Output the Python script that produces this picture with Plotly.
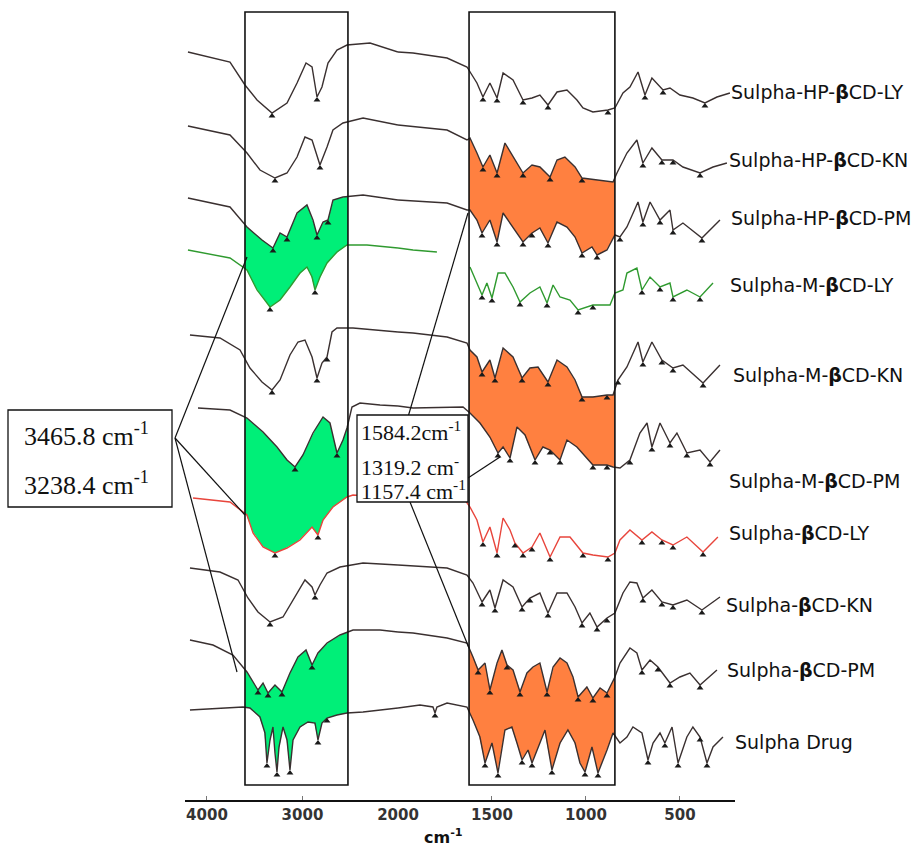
import numpy as np
import plotly.graph_objects as go

# ---------------- data (wavenumber cm-1, stacked transmittance offset; larger = lower on page) ----
names = ["Sulpha-HP-<b>β</b>CD-LY", "Sulpha-HP-<b>β</b>CD-KN", "Sulpha-HP-<b>β</b>CD-PM",
         "Sulpha-M-<b>β</b>CD-LY", "Sulpha-M-<b>β</b>CD-KN", "Sulpha-M-<b>β</b>CD-PM",
         "Sulpha-<b>β</b>CD-LY", "Sulpha-<b>β</b>CD-KN", "Sulpha-<b>β</b>CD-PM", "Sulpha Drug"]

wn1 = [4199,3759,3602,3476,3319,3162,3057,2963,2900,2848,2796,2733,2639,2534,2293,2000,
       1920,1739,1633,1580,1548,1511,1473,1441,1388,1335,1287,1245,1202,1154,1101,1048,1016,963,883,846,803,766,723,686,649,590,553,500,431,367,303,234]
t1 = [52,62,85,100,113,103,83,63,67,97,87,63,50,45,43,52,
      53,58,67,83,97,83,98,73,80,100,98,95,105,92,90,100,108,112,110,108,93,87,72,95,78,90,88,95,98,103,97,93]
pk1 = [3319,2848,1548,1473,1335,1202,883,686,590,367]

wn2 = [4199,3759,3581,3445,3288,3162,3057,2974,2900,2817,2743,2681,2576,2366,2000,
       1739,1633,1617,1580,1548,1511,1473,1431,1388,1335,1287,1245,1191,1154,1112,1058,1021,941,856,835,782,729,697,649,596,537,484,393,324,250]
t2 = [126,135,153,170,178,173,157,137,140,165,147,130,123,118,125,
      130,140,138,153,167,155,173,143,157,173,165,167,177,160,157,167,178,180,182,173,153,140,163,148,160,160,167,173,167,163]
pk2 = [3288,2817,1548,1473,1335,1191,1021,697,596,537,393]

wn3 = [4199,3759,3581,3424,3309,3235,3162,3057,2953,2890,2848,2785,2733,2681,2576,2366,2000,
       1739,1633,1617,1580,1553,1511,1473,1441,1388,1335,1287,1245,1202,1154,1101,1058,1021,968,941,888,846,819,782,723,697,659,606,553,537,484,383,287]
t3 = [198,207,227,240,248,233,237,213,205,220,235,222,220,200,197,195,200,
      203,210,210,220,233,220,242,213,227,242,233,228,243,222,227,237,253,247,255,250,235,237,227,202,222,202,220,210,230,223,238,220]
pk3 = [3309,3162,2848,2733,1553,1473,1335,1287,1202,1021,941,819,697,606,537,383]

wn4 = [4199,3759,3581,3476,3340,3235,3131,3026,2953,2900,2869,2817,2743,2639,2534,2325,2000,
       1920,1793,None,
       1617,1580,1553,1527,1500,1468,1431,1388,1351,1298,1245,1207,1175,1138,1085,1042,963,872,846,803,782,729,702,659,606,553,537,463,393,324]
t4 = [250,258,270,290,307,300,287,273,267,277,290,277,263,252,245,245,248,
      250,252,None,
      267,283,295,283,298,273,273,287,302,293,287,303,285,297,300,310,305,305,293,290,273,268,290,277,287,283,297,290,297,283]
pk4 = [3340,2869,1553,1500,1351,1207,1042,963,702,606,537,393]

wn5 = [4178,3864,3654,3550,3424,3319,3235,3131,3047,2974,2900,2848,2796,2743,2691,2639,2471,2188,2000,
       1920,1739,1633,1617,1580,1553,1511,1484,1441,1388,1340,1298,1255,1202,1154,1101,1058,1021,963,888,856,830,782,723,697,649,596,537,484,377,287]
t5 = [335,338,350,368,382,390,380,355,342,340,357,378,363,357,332,328,328,330,332,
      333,337,343,350,357,372,360,378,348,357,378,368,367,382,360,367,380,397,397,395,395,380,367,342,362,342,360,368,365,383,365]
pk5 = [3319,2848,2743,1553,1484,1340,1202,1021,888,830,697,596,537,377]

wn6 = [4094,3759,3581,3413,3267,3162,3078,2995,2890,2785,2712,2639,2576,2534,2482,2398,2188,2000,
       1920,1654,1617,1564,1511,1468,1441,1404,1367,1324,1271,1229,1191,1138,1101,1048,995,963,888,856,819,766,713,675,649,606,553,516,463,393,340,287]
t6 = [408,410,418,432,447,460,467,455,433,417,423,453,440,428,407,403,405,406,
      408,407,413,423,437,453,447,458,427,435,460,447,450,460,440,447,458,465,465,467,468,460,433,423,447,423,443,433,453,450,462,450]
pk6 = [3078,2639,1468,1404,1271,1191,1138,963,888,766,649,553,463,340]

wn7 = [4146,3759,3581,3518,3413,3288,3162,3026,2900,2838,2785,2681,2534,2471,2188,2000,
       1920,1654,1617,1580,1548,1511,1473,1441,1404,1378,1335,1287,1245,1191,1138,1085,1016,963,883,846,819,766,702,649,596,537,463,377,298]
t7 = [498,502,515,533,547,553,548,540,527,535,520,507,497,495,497,497,
      497,497,507,520,542,527,553,518,530,543,553,547,533,557,537,537,553,555,557,553,540,530,540,532,540,545,537,552,537]
pk7 = [3288,2838,1548,1473,1378,1335,1287,1191,1016,883,702,596,537,377]

wn8 = [4178,3864,3675,3571,3466,3340,3204,3099,2974,2900,2869,2817,2743,2607,2366,2000,
       1739,1633,1601,1553,1511,1484,1441,1388,1340,1298,1245,1202,1154,1101,1058,1021,979,941,888,846,803,766,729,697,649,596,537,463,383,287]
t8 = [568,572,580,598,612,622,617,600,580,587,595,585,573,567,563,565,
      568,575,583,602,590,608,580,587,607,598,593,613,593,593,607,623,613,627,618,613,593,582,583,598,590,602,605,600,610,597]
pk8 = [3340,2869,1553,1484,1340,1298,1202,1021,941,888,697,596,537,383]

wn9 = [4178,3937,3728,3581,3466,3413,3361,3288,3215,3131,3047,2963,2900,2838,2743,2607,2471,2188,2000,
       1920,1739,1633,1601,1574,1537,1511,1473,1447,1420,1388,1351,1314,1282,1245,1207,1175,1138,1101,1069,1042,995,963,925,888,846,819,766,729,702,659,617,553,500,447,393,303]
t9 = [640,645,655,672,690,683,693,685,692,673,657,650,665,653,643,635,630,630,632,
      633,638,643,657,670,663,690,663,650,665,670,692,673,667,663,692,667,658,663,677,697,687,698,688,693,677,663,648,653,670,660,667,683,677,673,685,670]
pk9 = [3466,3361,3215,2900,1574,1511,1420,1351,1207,1042,963,888,702,617,553,393]

wn10 = [4178,3864,3623,3550,3445,3393,3372,3340,3309,3288,3267,3246,3204,3162,3131,3099,3026,2942,2869,2838,2796,2743,2639,2534,2366,2000,
        1883,1814,1803,1793,1739,1633,1601,1564,1537,1500,1468,1431,1394,1367,1340,1308,1287,1245,1218,1181,1138,1096,1058,1032,1005,968,936,888,856,819,782,750,702,670,643,606,580,542,510,463,431,393,356,324,271]
t10 = [710,708,707,708,717,733,763,740,727,753,772,747,727,740,770,740,727,722,723,740,723,718,715,713,712,708,
       705,707,713,707,703,707,720,737,763,743,773,730,727,743,760,750,763,743,730,770,743,730,743,763,772,747,773,750,733,743,737,727,733,760,743,733,743,727,763,737,727,737,763,747,737]
pk10 = [3372,3267,3131,2838,2743,1803,1537,1468,1340,1287,1181,1005,936,670,580,510,393,356]

spectra = [(wn1,t1,pk1),(wn2,t2,pk2),(wn3,t3,pk3),(wn4,t4,pk4),(wn5,t5,pk5),
           (wn6,t6,pk6),(wn7,t7,pk7),(wn8,t8,pk8),(wn9,t9,pk9),(wn10,t10,pk10)]
line_colors = ["#3a3030"]*3 + ["#2f9a2f"] + ["#3a3030"]*2 + ["#e8453c"] + ["#3a3030"]*3

region_oh = (3602, 2524)
region_fp = (1622, 846)
green_pairs = [(2,3),(5,6),(8,9)]
orange_pairs = [(1,2),(4,5),(8,9)]

label_y = [92,160,218,285,375,481,533,605,670,742]
label_x = [729,727,729,728,731,727,727,724,725,733]

# reference frame is 918 px wide; figure width W, positions given as fractions of the frame
REF_W, W, H, PH = 918, 940, 849, 800
def PX(x): return x / REF_W
def PY(y): return 1 - y / PH

def arr(v):
    return np.array([np.nan if a is None else a for a in v], dtype=float)

def interp_at(wn, t, q):
    wn, t = arr(wn), arr(t)
    m = ~np.isnan(wn)
    return np.interp(q, wn[m][::-1], t[m][::-1])

fig = go.Figure()

def band(i, j, reg, color, xa):
    g = np.linspace(reg[0], reg[1], 200)
    yt = interp_at(spectra[i][0], spectra[i][1], g)
    yb = interp_at(spectra[j][0], spectra[j][1], g)
    fig.add_trace(go.Scatter(x=np.concatenate([g, g[::-1]]), y=np.concatenate([yt, yb[::-1]]),
                             fill="toself", fillcolor=color, line=dict(width=0), mode="lines",
                             xaxis=xa, yaxis="y", hoverinfo="skip"))

for i, j in green_pairs:
    band(i, j, region_oh, "#00ef78", "x")
for i, j in orange_pairs:
    band(i, j, region_fp, "#ff8040", "x2")

for k, (wn, t, pk) in enumerate(spectra):
    w, y = arr(wn), arr(t)
    left = w >= 2000
    right = (w <= 2000) | np.isnan(w)
    fig.add_trace(go.Scatter(x=w[left], y=y[left], mode="lines", xaxis="x", yaxis="y",
                             line=dict(color=line_colors[k], width=1.4), connectgaps=False))
    fig.add_trace(go.Scatter(x=w[right], y=y[right], mode="lines", xaxis="x2", yaxis="y",
                             line=dict(color=line_colors[k], width=1.4), connectgaps=False))
    pk = np.array(pk, dtype=float)
    py_ = interp_at(wn, t, pk) + 3
    for xa, m in (("x", pk > 2000), ("x2", pk <= 2000)):
        fig.add_trace(go.Scatter(x=pk[m], y=py_[m], mode="markers", xaxis=xa, yaxis="y",
                                 marker=dict(symbol="triangle-up", size=6, color="#1a1a1a")))

shapes = []
shapes.append(dict(type="rect", xref="x", yref="paper", x0=region_oh[0], x1=region_oh[1],
                   y0=PY(785), y1=PY(12), line=dict(color="#111", width=1.6)))
shapes.append(dict(type="rect", xref="x2", yref="paper", x0=region_fp[0], x1=region_fp[1],
                   y0=PY(785), y1=PY(12), line=dict(color="#111", width=1.6)))
for (x0, y0, x1, y1) in [(175,438,247,257),(175,438,245,515),(175,438,237,672),
                          (408,417,468,213),(468,478,500,457),(410,502,469,648)]:
    shapes.append(dict(type="line", xref="paper", yref="paper", x0=PX(x0), y0=PY(y0),
                       x1=PX(x1), y1=PY(y1), line=dict(color="#111", width=1.2)))
shapes.append(dict(type="rect", xref="paper", yref="paper", x0=PX(8), x1=PX(172), y0=PY(507), y1=PY(410),
                   fillcolor="white", line=dict(color="#111", width=1.3)))
shapes.append(dict(type="rect", xref="paper", yref="paper", x0=PX(357), x1=PX(468), y0=PY(502), y1=PY(415),
                   fillcolor="white", line=dict(color="#111", width=1.3)))

ann = []
serif = "Liberation Serif"
def A(text, x, y, size, family, xanchor="center"):
    ann.append(dict(text=text, x=PX(x), y=PY(y), xref="paper", yref="paper", xanchor=xanchor,
                    yanchor="middle", showarrow=False, font=dict(family=family, size=size, color="#111")))

A("3465.8 cm<sup>-1</sup>", 86, 434, 26, serif)
A("3238.4 cm<sup>-1</sup>", 86, 483, 26, serif)
for txt, yy in [("1584.2cm<sup>-1</sup>", 431), ("1319.2 cm<sup>-</sup>", 466), ("1157.4 cm<sup>-1</sup>", 490)]:
    A(txt, 359, yy, 22, serif, "left")
for nm, xx, yy in zip(names, label_x, label_y):
    A(nm, xx, yy, 19, "DejaVu Sans", "left")
A("<b>cm<sup>-1</sup></b>", 443, 837, 16, "DejaVu Sans")

axis_common = dict(showline=True, linecolor="#111", linewidth=1.6, ticks="inside", ticklen=4,
                   tickcolor="#777", showgrid=False, zeroline=False, anchor="y",
                   tickfont=dict(family="DejaVu Sans", size=15, color="#333", weight="bold"))
fig.update_layout(
    width=W, height=H, autosize=False,
    margin=dict(l=0, r=W - REF_W, t=0, b=H - PH),
    paper_bgcolor="white", plot_bgcolor="white", showlegend=False,
    xaxis=dict(domain=[PX(185), PX(398)], range=[4230, 2000], tickvals=[4000, 3000, 2000], **axis_common),
    xaxis2=dict(domain=[PX(398), PX(735)], range=[2000, 207], tickvals=[1500, 1000, 500], **axis_common),
    yaxis=dict(range=[PH, 0], visible=False, domain=[0, 1]),
    shapes=shapes, annotations=ann,
)
fig.write_html("out.html", config={"responsive": False})
